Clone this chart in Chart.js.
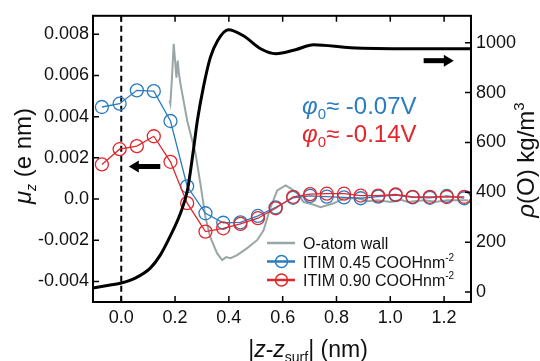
<!DOCTYPE html>
<html>
<head>
  <title>Dipole and density profile</title>
  <script src="https://cdn.jsdelivr.net/npm/chart.js"></script>
  <style>
    body { margin: 0; background: #fff; }
    #wrap { width: 540px; height: 361px; }
  </style>
</head>
<body>
  <div id="wrap"><canvas id="profileChart" width="540" height="361"></canvas></div>

  <script>
    // positions of the ITIM layers (nm)
    const zPos = [-0.072, -0.006, 0.058, 0.121, 0.183, 0.245, 0.313, 0.379, 0.443, 0.508, 0.574,
                  0.639, 0.702, 0.764, 0.828, 0.890, 0.955, 1.020, 1.083, 1.147, 1.210, 1.275];
    // mu_z (e nm)
    const mu045 = [0.00447, 0.00463, 0.00528, 0.00524, 0.00379, 0.00062, -0.00069, -0.00115, -0.00113, -0.00082, -0.00040,
                   0.00006, 0.00015, 0.00012, 0.00008, 0.00004, 0.00012, 0.00019, 0.00008, 0.00006, 0.00015, 0.00004];
    const mu090 = [0.00168, 0.00242, 0.00257, 0.00305, 0.00181, -0.00020, -0.00158, -0.00142, -0.00121, -0.00093, -0.00045,
                   0.00011, 0.00024, 0.00026, 0.00026, 0.00017, 0.00017, 0.00022, 0.00011, 0.00011, 0.00010, 0.00011];

    // oxygen density (kg/m3)
    const rhoZ = [-0.105, -0.041, 0.0, 0.052, 0.108, 0.145, 0.182, 0.220, 0.246, 0.268, 0.283, 0.305, 0.331, 0.358,
                  0.398, 0.454, 0.518, 0.574, 0.648, 0.715, 0.853, 1.076, 1.30];
    const rhoVal = [16, 28, 36, 56, 96, 148, 224, 316, 408, 568, 688, 820, 940, 1008,
                    1052, 1028, 976, 956, 972, 992, 980, 976, 976];

    // O-atom wall profile
    const wallZ = [0.180, 0.1825, 0.188, 0.195, 0.201, 0.205, 0.210, 0.214, 0.220, 0.245, 0.276, 0.294, 0.313, 0.331,
                   0.356, 0.375, 0.390, 0.406, 0.431, 0.468, 0.505, 0.529, 0.555, 0.580, 0.611, 0.629, 0.654, 0.678,
                   0.710, 0.741, 0.790, 0.827, 0.879, 0.915, 0.953, 1.002, 1.040, 1.065, 1.125, 1.170, 1.214, 1.289];
    const wallVal = [768, 756, 848, 996, 916, 860, 928, 880, 836, 688, 556, 436, 300, 220,
                     156, 128, 140, 136, 148, 176, 208, 248, 340, 408, 428, 416, 396, 361,
                     352, 340, 356, 376, 376, 364, 368, 361, 370, 361, 368, 362, 368, 368];

    const xTicks = [0, 0.2, 0.4, 0.6, 0.8, 1.0, 1.2];
    const muTicks = [-0.004, -0.002, 0, 0.002, 0.004, 0.006, 0.008];
    const rhoTicks = [0, 200, 400, 600, 800, 1000];

    const BLUE = '#2a7cc1';
    const RED = '#e2262b';
    const GRAY = '#9aa6a6';
    const FONT = 'Arial, "Liberation Sans", sans-serif';

    const pts = (xs, ys) => xs.map((x, i) => ({ x: x, y: ys[i] }));

    function richText(ctx, parts, x, y, align) {
      let w = 0;
      parts.forEach(p => {
        ctx.font = (p.italic ? 'italic ' : '') + p.size + 'px ' + FONT;
        p.w = ctx.measureText(p.t).width;
        w += p.w;
      });
      let cx = align === 'center' ? x - w / 2 : x;
      parts.forEach(p => {
        ctx.font = (p.italic ? 'italic ' : '') + p.size + 'px ' + FONT;
        ctx.fillStyle = p.color || '#111';
        ctx.fillText(p.t, cx, y + (p.dy || 0));
        cx += p.w;
      });
    }

    function arrow(ctx, x1, x2, y) {
      // shaft from x1 to the head at x2
      const dir = Math.sign(x2 - x1);
      ctx.fillStyle = '#000';
      ctx.fillRect(Math.min(x1, x2 - dir * 8), y - 2.5, Math.abs(x2 - dir * 8 - x1), 5);
      ctx.beginPath();
      ctx.moveTo(x2, y);
      ctx.lineTo(x2 - dir * 10, y - 6);
      ctx.lineTo(x2 - dir * 10, y + 6);
      ctx.closePath();
      ctx.fill();
    }

    const decor = {
      id: 'decor',
      beforeDatasetsDraw(chart) {
        const { ctx, chartArea: a, scales } = chart;
        // dashed line at the surface
        const x0 = scales.x.getPixelForValue(0);
        ctx.save();
        ctx.strokeStyle = '#000';
        ctx.lineWidth = 2;
        ctx.setLineDash([6, 4]);
        ctx.beginPath();
        ctx.moveTo(x0, a.top);
        ctx.lineTo(x0, a.bottom);
        ctx.stroke();
        ctx.restore();
      },
      afterDraw(chart) {
        const { ctx, chartArea: a, scales } = chart;
        const xs = scales.x, yl = scales.yMu, yr = scales.yRho;
        ctx.save();
        // frame
        ctx.strokeStyle = '#000';
        ctx.lineWidth = 2;
        ctx.strokeRect(a.left, a.top, a.right - a.left, a.bottom - a.top);
        // inward ticks
        ctx.lineWidth = 1.5;
        ctx.beginPath();
        xs.ticks.forEach(t => {
          const p = xs.getPixelForValue(t.value);
          ctx.moveTo(p, a.bottom); ctx.lineTo(p, a.bottom - 6);
          ctx.moveTo(p, a.top); ctx.lineTo(p, a.top + 6);
        });
        yl.ticks.forEach(t => {
          const p = yl.getPixelForValue(t.value);
          ctx.moveTo(a.left, p); ctx.lineTo(a.left + 6, p);
        });
        yr.ticks.forEach(t => {
          const p = yr.getPixelForValue(t.value);
          ctx.moveTo(a.right, p); ctx.lineTo(a.right - 6, p);
        });
        ctx.stroke();

        // arrows
        arrow(ctx, xs.getPixelForValue(0.145), xs.getPixelForValue(0.028), yl.getPixelForValue(0.00158));
        arrow(ctx, xs.getPixelForValue(1.124), xs.getPixelForValue(1.236), yr.getPixelForValue(928));

        // surface potential labels
        ctx.textBaseline = 'alphabetic';
        richText(ctx, [
          { t: '\u03c6', size: 24, italic: true, color: BLUE },
          { t: '0', size: 15, dy: 5, color: BLUE },
          { t: '\u2248 -0.07V', size: 24, color: BLUE }
        ], 302, 114);
        richText(ctx, [
          { t: '\u03c6', size: 24, italic: true, color: RED },
          { t: '0', size: 15, dy: 5, color: RED },
          { t: '\u2248 -0.14V', size: 24, color: RED }
        ], 302, 142);

        // legend
        const lg = [
          { c: GRAY, circle: false, parts: [{ t: 'O-atom wall', size: 16 }] },
          { c: BLUE, circle: true, parts: [{ t: 'ITIM 0.45 COOHnm', size: 16 }, { t: '-2', size: 10, dy: -7 }] },
          { c: RED, circle: true, parts: [{ t: 'ITIM 0.90 COOHnm', size: 16 }, { t: '-2', size: 10, dy: -7 }] }
        ];
        lg.forEach((it, i) => {
          const y = 243 + i * 18.5;
          ctx.strokeStyle = it.c;
          ctx.lineWidth = 2.5;
          ctx.beginPath();
          ctx.moveTo(267, y); ctx.lineTo(295, y);
          ctx.stroke();
          if (it.circle) {
            ctx.lineWidth = 1.5;
            ctx.beginPath();
            ctx.arc(281.5, y, 6, 0, Math.PI * 2);
            ctx.stroke();
          }
          richText(ctx, it.parts, 303, y + 6);
        });

        // axis titles
        richText(ctx, [
          { t: '|', size: 23 },
          { t: 'z', size: 23, italic: true },
          { t: '-', size: 23 },
          { t: 'z', size: 23, italic: true },
          { t: 'surf', size: 14, dy: 5 },
          { t: '| (nm)', size: 23 }
        ], 308, 357, 'center');

        ctx.save();
        ctx.translate(31, 156);
        ctx.rotate(-Math.PI / 2);
        richText(ctx, [
          { t: '\u03bc', size: 24, italic: true },
          { t: 'z', size: 14, italic: true, dy: 5 },
          { t: ' (e nm)', size: 24 }
        ], 0, 0, 'center');
        ctx.restore();

        ctx.save();
        ctx.translate(534, 160);
        ctx.rotate(-Math.PI / 2);
        richText(ctx, [
          { t: '\u03c1', size: 24, italic: true },
          { t: '(O) kg/m', size: 24 },
          { t: '3', size: 15, dy: -10 }
        ], 0, 0, 'center');
        ctx.restore();

        ctx.restore();
      }
    };

    const ctx = document.getElementById('profileChart').getContext('2d');
    new Chart(ctx, {
      type: 'line',
      data: {
        datasets: [
          {
            label: 'rho(O)',
            data: pts(rhoZ, rhoVal),
            yAxisID: 'yRho',
            borderColor: '#000',
            borderWidth: 3,
            pointRadius: 0,
            cubicInterpolationMode: 'monotone',
            order: 0
          },
          {
            label: 'ITIM 0.45 COOHnm-2',
            data: pts(zPos, mu045),
            yAxisID: 'yMu',
            borderColor: BLUE,
            borderWidth: 1.3,
            pointRadius: 6.5,
            pointBorderWidth: 1.3,
            pointBorderColor: BLUE,
            pointBackgroundColor: 'rgba(0,0,0,0)',
            order: 2
          },
          {
            label: 'ITIM 0.90 COOHnm-2',
            data: pts(zPos, mu090),
            yAxisID: 'yMu',
            borderColor: RED,
            borderWidth: 1.3,
            pointRadius: 6.5,
            pointBorderWidth: 1.3,
            pointBorderColor: RED,
            pointBackgroundColor: 'rgba(0,0,0,0)',
            order: 1
          },
          {
            label: 'O-atom wall',
            data: pts(wallZ, wallVal),
            yAxisID: 'yRho',
            borderColor: GRAY,
            borderWidth: 2,
            pointRadius: 0,
            order: 3
          }
        ]
      },
      options: {
        responsive: false,
        animation: false,
        layout: { padding: { top: 15, left: 0, right: 0, bottom: 0 } },
        plugins: { legend: { display: false }, tooltip: { enabled: false } },
        scales: {
          x: {
            type: 'linear',
            min: -0.105,
            max: 1.3,
            grid: { display: false, drawTicks: false },
            border: { display: false },
            afterFit(s) { s.height = 59; },
            afterBuildTicks(s) { s.ticks = xTicks.map(v => ({ value: v })); },
            ticks: {
              padding: 5,
              color: '#111',
              font: { family: FONT, size: 18 },
              callback: v => v.toFixed(1)
            }
          },
          yMu: {
            type: 'linear',
            position: 'left',
            min: -0.005,
            max: 0.0089,
            grid: { display: false, drawTicks: false },
            border: { display: false },
            afterFit(s) { s.width = 93; },
            afterBuildTicks(s) { s.ticks = muTicks.map(v => ({ value: v })); },
            ticks: {
              padding: 4,
              color: '#111',
              font: { family: FONT, size: 18 },
              callback: v => (v === 0 ? '0.0' : v.toFixed(3))
            }
          },
          yRho: {
            type: 'linear',
            position: 'right',
            min: -40,
            max: 1108,
            grid: { display: false, drawTicks: false },
            border: { display: false },
            afterFit(s) { s.width = 69; },
            afterBuildTicks(s) { s.ticks = rhoTicks.map(v => ({ value: v })); },
            ticks: {
              padding: 5,
              color: '#111',
              font: { family: FONT, size: 18 },
              callback: v => String(v)
            }
          }
        }
      },
      plugins: [decor]
    });
  </script>
</body>
</html>
